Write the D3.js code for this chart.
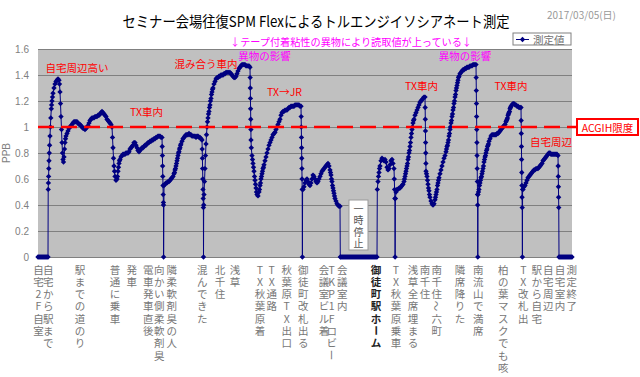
<!DOCTYPE html>
<html>
<head>
<meta charset="utf-8">
<script src="https://cdn.jsdelivr.net/npm/d3@7"></script>
<style>
  body { margin: 0; background: #fff; }
  text { font-family: "Noto Sans CJK JP", "Liberation Sans", sans-serif; }
</style>
</head>
<body>
<div id="chart"></div>
<script>
//y ticks (ppb)
const yTicks = [0, 0.2, 0.4, 0.6, 0.8, 1, 1.2, 1.4, 1.6];

//x labels : what happened, at which minute of the measurement
const stopLabels = [
  "自宅2F自室", "自宅から駅まで", "駅までの道のり", "普通に乗車", "発車",
  "電車発車直後", "向かい側柔軟剤臭", "隣柔軟剤臭の人", "混んできた", "北千住",
  "浅草", "TX秋葉原着", "TX通路", "秋葉原TX出口", "御徒町改札出る",
  "会議室ビル着", "TKP1Fロビー", "会議室内", "御徒町駅ホーム", "TX秋葉原乗車",
  "浅草全席埋まる", "南千住", "南千住〜六町", "隣席降りた", "南流山で満席",
  "柏の葉マスクでも咳", "TX改札出", "駅から自宅", "自宅周辺", "自宅室内", "測定終了",
];
const stopMinutes = [
  0.5, 10.3, 42, 77, 93.7, 110.3, 121.3, 133.7, 164.3, 182,
  197, 222, 233.7, 248.7, 265.3, 286, 293.7, 304.3, 338, 358,
  375, 387, 398.7, 422, 440.3, 465.3, 485.3, 498.7, 510.3, 522, 533.7,
];

//measured values [minute, ppb]
const readings = [
  [0,0],[1,0],[2,0],[3,0],[4,0],[5,0],[6,0],[7,0],[8,0],[9,0],[10,0],
  [10.2,0.52],[10.4,0.57],[10.6,0.62],[10.8,0.68],[11,0.74],[11.3,0.8],[11.6,0.86],[12,0.93],[12.4,1],[12.8,1.07],
  [13.3,1.14],[14,1.2],[15,1.26],[16,1.3],[17,1.33],[18,1.35],[19,1.36],[20,1.37],[21,1.36],[21.5,1.33],
  [22,1.27],[22.5,1.18],[23,1.08],[23.5,0.98],[24,0.88],[24.5,0.8],[25,0.75],[25.5,0.73],[26,0.77],[26.5,0.83],
  [27,0.88],[28,0.93],[29,0.95],[30,0.97],[31,0.99],[32,1],[33,1.01],[34,1.02],[35,1.03],[36,1.04],
  [37,1.04],[38,1.04],[39,1.04],[40,1.03],[41,1.02],[42,1.02],[43,1.01],[44,1],[45,0.99],[46,0.99],
  [47,0.98],[48,0.99],[49,1],[50,1.01],[51,1.03],[52,1.05],[53,1.06],[54,1.07],[55,1.07],[56,1.07],
  [57,1.08],[58,1.08],[59,1.08],[60,1.09],[61,1.09],[62,1.1],[63,1.11],[64,1.12],[65,1.11],[66,1.1],
  [67,1.09],[68,1.08],[69,1.06],[70,1.05],[71,1.04],[72,1.03],[73,1.02],[74,1],[74.5,0.92],[75,0.84],
  [75.5,0.76],[76,0.7],[76.5,0.66],[77,0.62],[78,0.59],[79,0.6],[80,0.66],[81,0.72],[82,0.75],[83,0.77],
  [84,0.78],[85,0.79],[86,0.79],[87,0.79],[88,0.8],[89,0.8],[90,0.8],[91,0.81],[92,0.83],[93,0.84],
  [94,0.85],[95,0.86],[96,0.88],[97,0.88],[98,0.86],[99,0.84],[100,0.82],[101,0.81],[102,0.82],[103,0.83],
  [104,0.84],[105,0.84],[106,0.85],[107,0.86],[108,0.86],[109,0.87],[110,0.88],[111,0.88],[112,0.89],[113,0.89],
  [114,0.9],[115,0.9],[116,0.91],[117,0.91],[118,0.92],[119,0.92],[120,0.93],[121,0.93],[122,0.93],[123,0.92],
  [124,0.92],[124.2,0.85],[124.4,0.78],[124.6,0.7],[124.8,0.62],[125,0.55],[125.2,0.48],[125.4,0.42],[125.5,0.4],[125.6,0],
  [126,0.55],[127,0.56],[128,0.57],[129,0.57],[130,0.58],[131,0.58],[132,0.59],[133,0.6],[134,0.61],[135,0.62],
  [136,0.64],[137,0.67],[138,0.7],[139,0.74],[140,0.78],[141,0.81],[142,0.84],[143,0.87],[144,0.89],[145,0.91],
  [146,0.92],[147,0.93],[148,0.94],[149,0.94],[150,0.94],[151,0.95],[152,0.94],[153,0.94],[154,0.93],[155,0.93],
  [156,0.93],[157,0.93],[158,0.92],[159,0.93],[160,0.93],[161,0.92],[162,0.92],[163,0.91],[164,0.9],[164.2,0.83],
  [164.4,0.76],[164.6,0.68],[164.8,0.6],[165,0.52],[165.2,0.45],[165.4,0.38],[165.5,0],[165.7,0.4],[166,0.48],[166.5,0.58],
  [167,0.68],[167.5,0.78],[168,0.87],[168.5,0.94],[169,1],[170,1.07],[171,1.12],[172,1.17],[173,1.22],[174,1.27],
  [175,1.3],[176,1.33],[177,1.35],[178,1.37],[179,1.38],[180,1.38],[181,1.39],[182,1.39],[183,1.4],[184,1.4],
  [185,1.4],[186,1.41],[187,1.41],[188,1.42],[189,1.42],[190,1.42],[191,1.42],[192,1.42],[193,1.41],[194,1.4],
  [195,1.39],[196,1.38],[197,1.38],[198,1.39],[199,1.41],[200,1.43],[201,1.45],[202,1.46],[203,1.47],[204,1.48],
  [205,1.48],[206,1.48],[207,1.48],[208,1.47],[209,1.47],[210,1.47],[211,1.47],[212,1.46],[212.15,1.38],[212.3,1.3],
  [212.45,1.22],[212.6,1.14],[212.75,1.06],[212.9,0.98],[213,0.9],[213.3,0.84],[214,0.78],[215,0.72],[216,0.66],[217,0.59],
  [218,0.53],[219,0.48],[220,0.47],[221,0.5],[222,0.55],[223,0.6],[224,0.64],[225,0.68],[226,0.71],[227,0.74],
  [228,0.77],[229,0.8],[230,0.83],[231,0.86],[232,0.88],[233,0.9],[234,0.92],[235,0.94],[236,0.95],[237,0.96],
  [238,0.98],[239,1],[240,1.02],[241,1.04],[242,1.06],[243,1.09],[244,1.11],[245,1.12],[246,1.12],[247,1.13],
  [248,1.13],[249,1.13],[250,1.14],[251,1.15],[252,1.15],[253,1.16],[254,1.16],[255,1.16],[256,1.16],[257,1.17],
  [258,1.17],[259,1.17],[260,1.17],[261,1.17],[262,1.16],[263,1.16],[263.15,1.08],[263.3,1],[263.45,0.92],[263.6,0.84],
  [263.75,0.76],[263.9,0.68],[264.05,0.6],[264.2,0.52],[264.4,0],[264.6,0.52],[265,0.52],[266,0.54],[267,0.57],[268,0.59],
  [269,0.6],[270,0.58],[271,0.56],[272,0.55],[273,0.57],[274,0.6],[275,0.63],[276,0.62],[277,0.6],[278,0.58],
  [279,0.57],[280,0.58],[281,0.6],[282,0.62],[283,0.64],[284,0.66],[285,0.67],[286,0.68],[287,0.69],[288,0.7],
  [289,0.71],[290,0.72],[291,0.7],[292,0.67],[293,0.63],[294,0.58],[295,0.53],[296,0.49],[297,0.45],[298,0.43],
  [299,0.41],[300,0.4],[301,0.39],[302,0.39],[302.3,0],[303,0],[304,0],[305,0],[306,0],[307,0],
  [308,0],[309,0],[310,0],[311,0],[312,0],[313,0],[314,0],[315,0],[316,0],[317,0],
  [318,0],[319,0],[320,0],[321,0],[322,0],[323,0],[324,0],[325,0],[326,0],[327,0],
  [328,0],[329,0],[330,0],[331,0],[332,0],[333,0],[334,0],[335,0],[336,0],[337,0],
  [338,0],[339,0],[339.3,0.52],[340,0.58],[341,0.65],[342,0.7],[343,0.74],[344,0.76],[345,0.75],[346,0.74],
  [347,0.75],[348,0.73],[349,0.69],[350,0.67],[351,0.68],[352,0.71],[353,0.74],[354,0.75],[355,0.72],[356,0.68],
  [356.3,0.6],[356.6,0.52],[356.9,0.45],[357.1,0],[357.4,0.45],[358,0.5],[359,0.52],[360,0.52],[361,0.53],[362,0.53],
  [363,0.54],[364,0.55],[365,0.56],[366,0.58],[367,0.62],[368,0.66],[369,0.7],[370,0.75],[371,0.8],[372,0.85],
  [373,0.92],[374,0.98],[375,1.03],[376,1.06],[377,1.09],[378,1.11],[379,1.13],[380,1.15],[381,1.17],[382,1.19],
  [383,1.2],[384,1.21],[385,1.22],[386,1.23],[387,1.23],[387.15,1.15],[387.3,1.06],[387.45,0.97],[387.6,0.88],[387.75,0.8],
  [387.9,0.72],[388,0.66],[389,0.62],[390,0.56],[391,0.51],[392,0.46],[393,0.43],[394,0.41],[395,0.4],[396,0.41],
  [397,0.44],[398,0.48],[399,0.52],[400,0.57],[401,0.61],[402,0.64],[403,0.67],[404,0.7],[405,0.73],[406,0.76],
  [407,0.78],[408,0.81],[409,0.85],[410,0.88],[411,0.93],[412,0.98],[413,1.03],[414,1.08],[415,1.13],[416,1.18],
  [417,1.23],[418,1.28],[419,1.32],[420,1.36],[421,1.39],[422,1.41],[423,1.42],[424,1.43],[425,1.44],[426,1.44],
  [427,1.45],[428,1.45],[429,1.46],[430,1.46],[431,1.46],[432,1.47],[433,1.47],[434,1.47],[435,1.48],[436,1.48],
  [437,1.48],[438,1.48],[438.15,1.38],[438.3,1.28],[438.45,1.18],[438.6,1.08],[438.75,0.98],[438.9,0.88],[439.05,0.78],[439.2,0.68],
  [439.35,0.58],[439.5,0.48],[439.65,0.4],[439.8,0],[440,0.48],[441,0.52],[442,0.57],[443,0.61],[444,0.64],[445,0.68],
  [446,0.73],[447,0.77],[448,0.8],[449,0.83],[450,0.86],[451,0.89],[452,0.91],[453,0.93],[454,0.94],[455,0.94],
  [456,0.94],[457,0.94],[458,0.94],[459,0.95],[460,0.95],[461,0.96],[462,0.97],[463,0.98],[464,0.99],[465,1],
  [466,1.01],[467,1.02],[468,1.04],[469,1.06],[470,1.09],[471,1.11],[472,1.14],[473,1.16],[474,1.17],[475,1.18],
  [476,1.18],[477,1.17],[478,1.17],[479,1.16],[480,1.16],[481,1.15],[482,1.15],[483,1.15],[483.15,1.05],[483.3,0.95],
  [483.45,0.85],[483.6,0.75],[483.75,0.65],[483.9,0.55],[484.05,0.46],[484.2,0.38],[484.4,0],[484.6,0.52],[485,0.52],[486,0.54],
  [487,0.55],[488,0.57],[489,0.59],[490,0.61],[491,0.62],[492,0.63],[493,0.64],[494,0.65],[495,0.66],[496,0.67],
  [497,0.67],[498,0.68],[499,0.68],[500,0.68],[501,0.69],[502,0.7],[503,0.71],[504,0.72],[505,0.74],[506,0.75],
  [507,0.76],[508,0.77],[509,0.78],[510,0.79],[511,0.8],[512,0.8],[513,0.79],[514,0.79],[515,0.79],[516,0.79],
  [517,0.79],[518,0.79],[519,0.79],[520,0.78],[520.15,0.7],[520.3,0.62],[520.45,0.54],[520.6,0.46],[520.75,0.38],[521,0],
  [522,0],[523,0],[524,0],[525,0],[526,0],[527,0],[528,0],[529,0],[530,0],[531,0],
  [532,0],[533,0],[534,0],
];

//half-minute readings where the value moves fast
const fastReadings = [
  [13.6,1.17],[14.5,1.23],[27.5,0.91],[79.5,0.62],[80.5,0.69],[81.5,0.74],
  [136.5,0.65],[137.5,0.68],[138.5,0.72],[139.5,0.76],[140.5,0.8],[141.5,0.83],[142.5,0.86],
  [169.5,1.04],[170.5,1.1],[171.5,1.15],[172.5,1.2],[173.5,1.25],[174.5,1.29],
  [214.5,0.75],[215.5,0.69],[216.5,0.62],[217.5,0.56],[218.5,0.5],
  [221.5,0.52],[222.5,0.57],[223.5,0.62],[224.5,0.66],[225.5,0.69],
  [292.5,0.65],[293.5,0.6],[294.5,0.55],[295.5,0.51],[296.5,0.47],[340.5,0.62],[341.5,0.68],
  [366.5,0.6],[367.5,0.64],[368.5,0.68],[369.5,0.72],[370.5,0.77],[371.5,0.82],[372.5,0.88],[373.5,0.95],[374.5,1],[375.5,1.05],
  [388.5,0.64],[389.5,0.59],[390.5,0.53],[391.5,0.48],[397.5,0.46],[398.5,0.5],[399.5,0.55],[400.5,0.59],
  [408.5,0.83],[409.5,0.86],[410.5,0.9],[411.5,0.95],[412.5,1],[413.5,1.05],[414.5,1.1],[415.5,1.15],
  [416.5,1.2],[417.5,1.25],[418.5,1.3],[419.5,1.34],[420.5,1.38],
  [440.5,0.5],[441.5,0.55],[442.5,0.59],[443.5,0.62],[444.5,0.66],[445.5,0.7],[446.5,0.75],[447.5,0.78],
  [448.5,0.82],[449.5,0.85],[450.5,0.87],[468.5,1.05],[469.5,1.07],[470.5,1.1],[471.5,1.12],[472.5,1.15],
];

//notes written on the chart [text, minute, ppb]
const redNotes = [
  ["自宅周辺高い", 39, 1.46], ["TX車内", 108.5, 1.12], ["混み合う車内", 168, 1.49],
  ["TX→JR", 246.5, 1.27], ["TX車内", 383.5, 1.32], ["TX車内", 473, 1.32], ["自宅周辺", 513, 0.89],
];
const pinkNotes = [["異物の影響", 226.5, 1.55], ["異物の影響", 427, 1.55]];
const acgihLimit = 1;

//svg size
const width = 640;
const height = 377;
const plot = { left: 38, right: 572, top: 49, bottom: 257 };

const navy = "#000080";

const series = readings.concat(fastReadings).sort((a, b) => a[0] - b[0]);

const svg = d3
    .select("#chart")
    .append("svg")
    .attr("width", width)
    .attr("height", height);

const x = d3.scaleLinear().domain([0, 534]).range([plot.left, plot.right]);
const y = d3.scaleLinear().domain([0, 1.6]).range([plot.bottom, plot.top]);

//plot background
svg
    .append("rect")
    .attr("x", plot.left)
    .attr("y", plot.top)
    .attr("width", plot.right - plot.left)
    .attr("height", plot.bottom - plot.top)
    .attr("fill", "#c0c0c0");

//grid
svg
    .append("g")
    .selectAll("line")
    .data(yTicks)
    .join("line")
    .attr("x1", plot.left)
    .attr("x2", plot.right)
    .attr("y1", (d) => Math.round(y(d)) + 0.5)
    .attr("y2", (d) => Math.round(y(d)) + 0.5)
    .attr("stroke", "#808080")
    .attr("stroke-width", 1);

//y axis
const yAxis = svg
    .append("g")
    .attr("transform", `translate(${plot.left},0)`)
    .call(
        d3.axisLeft(y).tickValues(yTicks).tickSize(0).tickPadding(9).tickFormat(d3.format("~g"))
    );
yAxis.select(".domain").remove();
yAxis
    .selectAll("text")
    .attr("fill", "#808080")
    .attr("font-size", 10)
    .style("font-family", "'Liberation Sans', Arial, sans-serif");

svg
    .append("text")
    .attr("transform", `translate(10,${(plot.top + plot.bottom) / 2}) rotate(-90)`)
    .attr("text-anchor", "middle")
    .attr("fill", "#808080")
    .attr("font-size", 10)
    .style("font-family", "'Liberation Sans', Arial, sans-serif")
    .text("PPB");

//x labels, vertical japanese
const gx = svg.append("g");
stopLabels.forEach((label, i) => {
  const bold = label === "御徒町駅ホーム";
  const g = gx
      .append("g")
      .attr("transform", `translate(${x(stopMinutes[i])},269)`);
  g.selectAll("text")
      .data(Array.from(label))
      .join("text")
      .attr("transform", (c, j) => {
        const rot = c === "ー" || c === "〜" ? " rotate(90)" : "";
        return `translate(0,${j * 12.3})${rot}`;
      })
      .attr("text-anchor", "middle")
      .attr("dominant-baseline", "central")
      .attr("font-size", 10.5)
      .attr("font-weight", bold ? "bold" : "normal")
      .attr("fill", bold ? "#222" : "#777")
      .text((c) => c);
});

//measured line
const line = d3
    .line()
    .x((d) => x(d[0]))
    .y((d) => y(d[1]));

svg
    .append("path")
    .datum(series)
    .attr("d", line)
    .attr("fill", "none")
    .attr("stroke", navy)
    .attr("stroke-width", 1);

const diamond = "M0,-2.7L2.7,0L0,2.7L-2.7,0Z";
svg
    .append("g")
    .selectAll("path")
    .data(series)
    .join("path")
    .attr("d", diamond)
    .attr("transform", (d) => `translate(${x(d[0])},${y(d[1])})`)
    .attr("fill", navy);

//ACGIH limit
svg
    .append("line")
    .attr("x1", plot.left)
    .attr("x2", 577)
    .attr("y1", y(acgihLimit))
    .attr("y2", y(acgihLimit))
    .attr("stroke", "#ff0000")
    .attr("stroke-width", 2.5)
    .attr("stroke-dasharray", "16 7");

const acg = svg.append("g").attr("transform", `translate(577,${y(acgihLimit) - 8})`);
acg
    .append("rect")
    .attr("width", 61)
    .attr("height", 16)
    .attr("fill", "#fff")
    .attr("stroke", "#ff0000")
    .attr("stroke-width", 2);
acg
    .append("text")
    .attr("x", 30.5)
    .attr("y", 8.5)
    .attr("text-anchor", "middle")
    .attr("dominant-baseline", "central")
    .attr("font-size", 10.5)
    .attr("fill", "#ff0000")
    .text("ACGIH限度");

//notes
svg
    .append("g")
    .selectAll("text")
    .data(redNotes.map((d) => [...d, "#ff0000"]).concat(pinkNotes.map((d) => [...d, "#ff00ff"])))
    .join("text")
    .attr("x", (d) => x(d[1]))
    .attr("y", (d) => y(d[2]))
    .attr("text-anchor", "middle")
    .attr("dominant-baseline", "central")
    .attr("font-size", 10.5)
    .attr("fill", (d) => d[3])
    .text((d) => d[0]);

svg
    .append("text")
    .attr("x", 351)
    .attr("y", 41)
    .attr("text-anchor", "middle")
    .attr("dominant-baseline", "central")
    .attr("font-size", 10.5)
    .attr("fill", "#ff00ff")
    .attr("textLength", 242)
    .attr("lengthAdjust", "spacingAndGlyphs")
    .text("↓テープ付着粘性の異物により読取値が上っている↓");

//pause box
const pause = svg.append("g").attr("transform", "translate(349,200)");
pause
    .append("rect")
    .attr("width", 19)
    .attr("height", 50)
    .attr("fill", "#fff")
    .attr("stroke", "#999");
pause
    .selectAll("text")
    .data(Array.from("一時停止"))
    .join("text")
    .attr("x", 9.5)
    .attr("y", (c, i) => 8 + i * 11.5)
    .attr("text-anchor", "middle")
    .attr("dominant-baseline", "central")
    .attr("font-size", 10)
    .attr("fill", "#555")
    .text((c) => c);

//legend
const legend = svg.append("g").attr("transform", "translate(513,33)");
legend
    .append("rect")
    .attr("width", 58)
    .attr("height", 12)
    .attr("fill", "#fff")
    .attr("stroke", "#808080");
legend
    .append("line")
    .attr("x1", 3)
    .attr("x2", 16)
    .attr("y1", 6.5)
    .attr("y2", 6.5)
    .attr("stroke", navy);
legend
    .append("path")
    .attr("d", diamond)
    .attr("transform", "translate(9.5,6.5)")
    .attr("fill", navy);
legend
    .append("text")
    .attr("x", 20)
    .attr("y", 6.5)
    .attr("dominant-baseline", "central")
    .attr("font-size", 10.5)
    .attr("fill", "#707070")
    .text("測定値");

//title and date
svg
    .append("text")
    .attr("x", 316)
    .attr("y", 20)
    .attr("text-anchor", "middle")
    .attr("dominant-baseline", "central")
    .attr("font-size", 15)
    .attr("fill", "#000")
    .attr("textLength", 387)
    .attr("lengthAdjust", "spacingAndGlyphs")
    .text("セミナー会場往復SPM Flexによるトルエンジイソシアネート測定");

svg
    .append("text")
    .attr("x", 547)
    .attr("y", 14)
    .attr("dominant-baseline", "central")
    .attr("font-size", 10)
    .attr("fill", "#999")
    .text("2017/03/05(日)");
</script>
</body>
</html>
